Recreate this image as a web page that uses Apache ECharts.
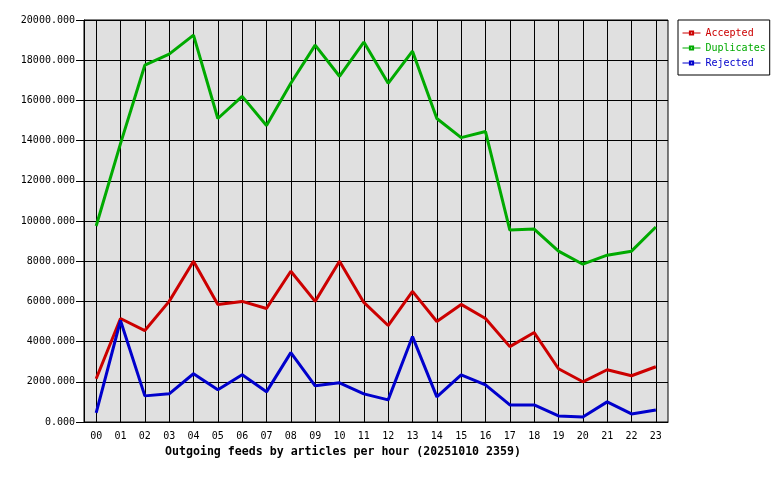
<!DOCTYPE html>
<html>
<head>
<meta charset="utf-8">
<script src="https://cdn.jsdelivr.net/npm/echarts@6/dist/echarts.min.js"></script>
<style>
  html, body { margin: 0; padding: 0; background: #fff; }
  #chart { width: 780px; height: 480px; }
</style>
</head>
<body>
<div id="chart"></div>
<script>
var hours = ['00','01','02','03','04','05','06','07','08','09','10','11',
             '12','13','14','15','16','17','18','19','20','21','22','23'];
var accepted = [2150, 5150, 4550, 6000, 8000, 5850, 6000, 5650, 7500, 6000, 8000, 5950,
                4800, 6500, 5000, 5850, 5150, 3750, 4450, 2650, 2000, 2600, 2300, 2750];
var duplicates = [9750, 13850, 17750, 18300, 19250, 15100, 16200, 14750, 16850, 18750, 17200, 18900,
                  16850, 18450, 15100, 14150, 14450, 9550, 9600, 8500, 7850, 8300, 8500, 9700];
var rejected = [450, 5050, 1300, 1400, 2400, 1600, 2350, 1500, 3450, 1800, 1950, 1400,
                1100, 4250, 1250, 2350, 1850, 850, 850, 300, 250, 1000, 400, 600];

var mono = 'DejaVu Sans Mono';

function makeSeries(name, data, color) {
    return {
        name: name,
        type: 'line',
        data: data,
        symbol: 'emptyRect',
        symbolSize: [5, 3],
        showSymbol: false,
        itemStyle: { color: color },
        lineStyle: { color: color, width: 3 },
        emphasis: { disabled: true },
        animation: false
    };
}

var chart = echarts.init(document.getElementById('chart'));
chart.setOption({
    backgroundColor: '#ffffff',
    title: {
        text: 'Outgoing feeds by articles per hour (20251010 2359)',
        left: 165,
        top: 446,
        padding: 0,
        textStyle: { fontFamily: mono, fontWeight: 'bold', fontSize: 11.6, color: '#000' }
    },
    legend: {
        orient: 'vertical',
        left: 678,
        top: 20,
        padding: [7, 4, 6, 4],
        itemWidth: 18,
        itemHeight: 4,
        itemGap: 3,
        backgroundColor: '#fff',
        borderColor: '#000',
        borderWidth: 1,
        borderRadius: 0,
        lineStyle: { width: 1 },
        itemStyle: { borderWidth: 1 },
        textStyle: { fontFamily: mono, fontSize: 10, lineHeight: 12 },
        data: [
            { name: 'Accepted', textStyle: { color: '#cc0000' } },
            { name: 'Duplicates', textStyle: { color: '#00aa00' } },
            { name: 'Rejected', textStyle: { color: '#0000cc' } }
        ]
    },
    grid: {
        left: 84,
        right: 112,
        top: 20,
        bottom: 58,
        show: true,
        backgroundColor: '#e0e0e0',
        borderColor: '#000',
        borderWidth: 1
    },
    xAxis: {
        type: 'category',
        data: hours,
        boundaryGap: true,
        axisLine: { lineStyle: { color: '#000', width: 1 } },
        axisTick: { alignWithLabel: true, length: 5, lineStyle: { color: '#000' } },
        axisLabel: { fontFamily: mono, fontSize: 10, color: '#000', margin: 9, interval: 0 },
        splitLine: { show: true, alignWithLabel: true, lineStyle: { color: '#000', width: 1 } }
    },
    yAxis: {
        type: 'value',
        min: 0,
        max: 20000,
        interval: 2000,
        axisLine: { show: true, lineStyle: { color: '#000', width: 1 } },
        axisTick: { show: true, length: 8, lineStyle: { color: '#000' } },
        axisLabel: {
            fontFamily: mono, fontSize: 10, color: '#000', margin: 9,
            formatter: function (v) { return v.toFixed(3); }
        },
        splitLine: { show: true, lineStyle: { color: '#000', width: 1 } }
    },
    series: [
        makeSeries('Accepted', accepted, '#cc0000'),
        makeSeries('Duplicates', duplicates, '#00aa00'),
        makeSeries('Rejected', rejected, '#0000cc')
    ]
});
</script>
</body>
</html>
